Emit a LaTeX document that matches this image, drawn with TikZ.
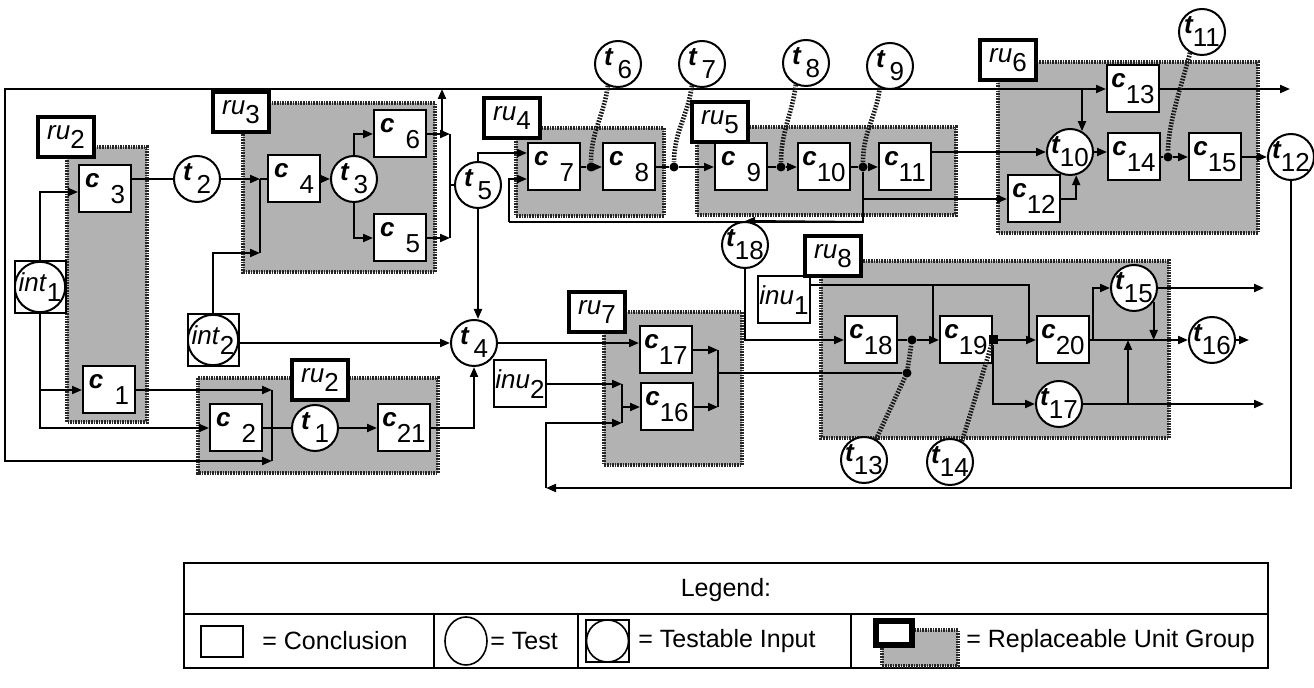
\documentclass[tikz,border=0pt]{standalone}
\usepackage{fontspec}
\setmainfont{Liberation Sans}
\usetikzlibrary{arrows.meta}
\newcommand\lblfont{\fontsize{13}{13}\selectfont}
\newcommand\legfont{\fontsize{12.5}{14}\selectfont}
\newcommand\clab[1]{\makebox[20pt]{\raisebox{3.5pt}{\bfseries\itshape c}\hfill\raisebox{-4.5pt}{#1}}}
\newcommand\tlab[1]{\makebox[14pt]{\raisebox{3pt}{\bfseries\itshape t}\hfill\raisebox{-3.5pt}{#1}}}
\newcommand\rlab[1]{\textit{ru}\raisebox{-4.5pt}{#1}}
\newcommand\ilab[2]{\textit{#1}\raisebox{-5pt}{#2}}
\tikzset{
  grp/.style={fill=black!30, draw=black!85, line width=1.7pt, dash pattern=on 0.8pt off 0.5pt},
  concl/.style={draw, line width=1pt, fill=white, minimum width=26pt, minimum height=23.5pt, inner sep=0pt, font=\lblfont},
  test/.style={draw, circle, line width=1pt, fill=white, minimum size=23pt, inner sep=0pt, font=\lblfont},
  tinput/.style={draw, line width=1pt, fill=white, minimum width=25.5pt, minimum height=26pt, inner sep=0pt, font=\lblfont,
    path picture={\draw[line width=1pt] (path picture bounding box.center) circle[radius=12.6pt];}},
  rulab/.style={draw, line width=1.9pt, fill=white, minimum width=28pt, minimum height=20pt, inner sep=0pt, font=\lblfont},
  conn/.style={line width=1pt},
  arr/.style={line width=1pt, -{Triangle[length=5pt,width=4pt]}},
  probe/.style={line width=2.3pt, black!90, dash pattern=on 0.8pt off 0.7pt},
  jdot/.style={circle, fill, inner sep=0pt, minimum size=4.5pt},
  legtxt/.style={anchor=west, inner sep=0pt, font=\legfont},
}
\begin{document}
\begin{tikzpicture}[x=0.5pt,y=-0.5pt]
\useasboundingbox (0,0) rectangle (1314,688);

% replaceable unit groups (shaded)
\draw[grp] (67,147) rectangle (147,422);
\draw[grp] (243,103) rectangle (435,272);
\draw[grp] (516,128) rectangle (664,216);
\draw[grp] (697,127) rectangle (956,215);
\draw[grp] (998,62) rectangle (1258,233);
\draw[grp] (604,312) rectangle (742,465);
\draw[grp] (821,261) rectangle (1169,438);
\draw[grp] (198,378) rectangle (438,473);

% conclusions
\node[concl] (c3) at (105,189) {\clab{3}};
\node[concl] (c1) at (109,390) {\clab{1}};
\node[concl] (c4) at (294,179) {\clab{4}};
\node[concl] (c6) at (400,134) {\clab{6}};
\node[concl] (c5) at (400,238) {\clab{5}};
\node[concl] (c2) at (236,428) {\clab{2}};
\node[concl] (c21) at (404,428) {\clab{21}};
\node[concl] (c7) at (554,167) {\clab{7}};
\node[concl] (c8) at (629,167) {\clab{8}};
\node[concl] (c9) at (741,167) {\clab{9}};
\node[concl] (c10) at (824,167) {\clab{10}};
\node[concl] (c11) at (905,167) {\clab{11}};
\node[concl] (c13) at (1133,89) {\clab{13}};
\node[concl] (c14) at (1134,157) {\clab{14}};
\node[concl] (c15) at (1215,157) {\clab{15}};
\node[concl] (c12) at (1034,199) {\clab{12}};
\node[concl] (c17) at (666,350) {\clab{17}};
\node[concl] (c16) at (667,407) {\clab{16}};
\node[concl] (c18) at (871,340) {\clab{18}};
\node[concl] (c19) at (966,340) {\clab{19}};
\node[concl] (c20) at (1063,340) {\clab{20}};
\node[concl] (inu1) at (784,300) {\ilab{inu}{1}};
\node[concl] (inu2) at (520,384) {\ilab{inu}{2}};

% testable inputs
\node[tinput] (int1) at (40,287) {\ilab{int}{1}};
\node[tinput] (int2) at (213,340) {\ilab{int}{2}};

% tests
\node[test] (t1) at (315,428) {\tlab{1}};
\node[test] (t2) at (197,179) {\tlab{2}};
\node[test] (t3) at (354,179) {\tlab{3}};
\node[test] (t4) at (474,343) {\tlab{4}};
\node[test] (t5) at (478,185) {\tlab{5}};
\node[test] (t6) at (618,64) {\tlab{6}};
\node[test] (t7) at (702,64) {\tlab{7}};
\node[test] (t8) at (806,63) {\tlab{8}};
\node[test] (t9) at (890,66) {\tlab{9}};
\node[test] (t10) at (1070,152) {\tlab{10}};
\node[test] (t11) at (1202,32) {\tlab{11}};
\node[test] (t12) at (1291,157) {\tlab{12}};
\node[test] (t13) at (864,460) {\tlab{13}};
\node[test] (t14) at (950,462) {\tlab{14}};
\node[test] (t15) at (1134,288) {\tlab{15}};
\node[test] (t16) at (1212,340) {\tlab{16}};
\node[test] (t17) at (1059,404) {\tlab{17}};
\node[test] (t18) at (745,245) {\tlab{18}};

% junction dots
\node[jdot] (d7) at (591,167) {};
\node[jdot] (d8) at (674,167) {};
\node[jdot] (d9) at (781,167) {};
\node[jdot] (j11) at (863,167) {};
\node[jdot] (d11) at (1168,157) {};
\node[jdot] (d18) at (912,340) {};
\node[jdot] (d13b) at (907,373) {};
\node[fill, inner sep=0pt, minimum size=4.5pt] (sq19) at (c19.east) {};

% helper coordinates
\coordinate (b4) at (260,179);
\coordinate (b4b) at (260,253);
\coordinate (b5t) at (450,134);
\coordinate (b5b) at (450,238);
\coordinate (up1) at (442,134);
\coordinate (top1) at (442,89);
\coordinate (fTL) at (5,89);
\coordinate (fBL) at (5,461);
\coordinate (bc2t) at (272,390);
\coordinate (bc2b) at (272,461);
\coordinate (b7t) at (622,384);
\coordinate (b7b) at (622,423);
\coordinate (b8t) at (718,350);
\coordinate (b8b) at (718,407);
\coordinate (b8m) at (718,373);
\coordinate (fbBL) at (546,488);
\coordinate (j11b) at (863,222);
\coordinate (c7r) at (509,222);
\coordinate (o13) at (1290,89);
\coordinate (o15) at (1264,288);
\coordinate (o16) at (1249,340);
\coordinate (o17) at (1264,404);
\coordinate (c20in) at (1029,340);
\coordinate (i1j) at (933,285);
\coordinate (c20u) at (1093,340);
\coordinate (j17) at (1128,404);

% connectors: left part
\draw[arr] (int1.north) |- ([yshift=-1.5pt]c3.west);
\draw[arr] (int1.south) |- (c2.west);
\draw[arr] (int1.south |- c1.west) -- (c1.west);
\draw[conn] (c3.east |- t2.west) -- (t2.west);
\draw[arr] (t2.east) -- (b4);
\draw[conn] (b4) -- (c4.west);
\draw[conn] (b4) -- (b4b);
\draw[arr] (int2.north) |- (b4b);
\draw[arr] (c4.east) -- (t3.west);
\draw[arr] (t3.north) |- (c6.west);
\draw[arr] (t3.south) |- (c5.west);
\draw[arr] (c6.east) -- (b5t);
\draw[arr] (c5.east) -- (b5b);
\draw[conn] (b5t) -- (b5b);
\draw[conn] (b5t |- t5.west) -- (t5.west);
\draw[arr] (up1) -- (top1);
\draw[arr] (top1) -- (fTL) -- (fBL) -- (bc2b);
\draw[arr] (top1) -- (c13.west);
\draw[arr] (c1.east) -- (bc2t);
\draw[conn] (bc2t) -- (bc2b);
\draw[conn] (c2.east) -- (t1.west);
\draw[arr] (t1.east) -- (c21.west);
\draw[arr] (c21.east) -| (t4.south);
\draw[arr] (int2.east |- t4.west) -- (t4.west);
\draw[arr] (t5.south) -- (t5.south |- t4.north);
\draw[arr] (t5.north) |- ([yshift=7pt]c7.west);
\draw[arr] (t4.east) -- (t4.east -| c17.west);

% chain ru4 / ru5
\draw[conn] (c7.east) -- (d7);
\draw[arr] (d7) -- (c8.west);
\draw[conn] (c8.east) -- (d8);
\draw[arr] (d8) -- (c9.west);
\draw[conn] (c9.east) -- (d9);
\draw[arr] (d9) -- (c10.west);
\draw[conn] (c10.east) -- (j11);
\draw[arr] (j11) -- (c11.west);
\draw[conn] (j11) -- (j11b) -- (c7r);
\draw[arr] (c7r) |- ([yshift=-6pt]c7.west);
\draw[arr] (j11b) -- (t18.north);
\draw[arr] (t18.south) |- (c18.west);
\draw[arr] (j11 |- c12.west) -- (c12.west);

% ru6
\draw[arr] (c11.east |- t10.west) -- (t10.west);
\draw[arr] (t10.60 |- c13.west) -- (t10.60);
\draw[arr] (c12.east) -| (t10.-75);
\draw[arr] (t10.east) -- (t10.east -| c14.west);
\draw[conn] (c14.east) -- (d11);
\draw[arr] (d11) -- (c15.west);
\draw[arr] (c15.east) -- (t12.west);
\draw[arr] (c13.east) -- (o13);
\draw[arr] (t12.south) |- (fbBL);
\draw[arr] (fbBL) |- (b7b);

% ru7
\draw[arr] (inu2.east) -- (b7t);
\draw[conn] (b7t) -- (b7b);
\draw[arr] (b7t |- c16.west) -- (c16.west);
\draw[arr] (c17.east) -- (b8t);
\draw[arr] (c16.east) -- (b8b);
\draw[conn] (b8t) -- (b8b);
\draw[conn] (b8m) -- (d13b);

% ru8
\draw[arr] ([yshift=7.5pt]inu1.east) -| (c20in) -- (c20.west);
\draw[conn] (i1j) -- (i1j |- c19.west);
\draw[conn] (c18.east) -- (d18);
\draw[arr] (d18) -- (c19.west);
\draw[conn] (sq19) -- (c20in);
\draw[arr] (sq19) |- (t17.west);
\draw[arr] (c20.east) -- (t16.west);
\draw[arr] (c20u) |- (t15.west);
\draw[arr] (t15.east) -- (o15);
\draw[arr] (t15.-35) -- (t15.-35 |- t16.west);
\draw[arr] (t17.east) -- (o17);
\draw[arr] (j17) -- (j17 |- t16.west);
\draw[arr] (t16.east) -- (o16);

% probes (dotted)
\draw[probe] (t6.-115) .. controls +(-4,30) and +(0,-35) .. (d7);
\draw[probe] (t7.-115) .. controls +(-4,30) and +(0,-35) .. (d8);
\draw[probe] (t8.-115) .. controls +(-4,30) and +(0,-35) .. (d9);
\draw[probe] (t9.-115) .. controls +(-4,30) and +(0,-35) .. (j11);
\draw[probe] (t11.-120) .. controls +(-6,25) and +(0,-35) .. (d11);
\draw[probe] (t13.60) -- (d13b) -- (d18);
\draw[probe] (t14.60) -- (sq19);

% replaceable unit labels
\node[rulab] (ru2a) at (66,137) {\rlab{2}};
\node[rulab] (ru3) at (241,112) {\rlab{3}};
\node[rulab] (ru4) at (512,118) {\rlab{4}};
\node[rulab] (ru5) at (720,122) {\rlab{5}};
\node[rulab] (ru6) at (1008,60) {\rlab{6}};
\node[rulab] (ru7) at (597,312) {\rlab{7}};
\node[rulab] (ru8) at (833,256) {\rlab{8}};
\node[rulab] (ru2b) at (320,380) {\rlab{2}};

% legend
\draw[line width=0.8pt] (184,563) rectangle (1268,668);
\draw[line width=0.8pt] (184,614) -- (1268,614);
\draw[line width=0.8pt] (434,614) -- (434,668);
\draw[line width=0.8pt] (578,614) -- (578,668);
\draw[line width=0.8pt] (851,614) -- (851,668);
\node[font=\legfont, inner sep=0pt] (legtitle) at (726,590) {Legend:};
\draw[line width=0.8pt] (201,626) rectangle (243,657);
\node[legtxt] (lconc) at (262,641) {= Conclusion};
\draw[line width=0.8pt] (466,641) ellipse[x radius=21, y radius=24];
\node[legtxt] (ltest) at (490,641) {= Test};
\draw[line width=0.8pt] (586,620) rectangle (629,662);
\draw[line width=0.8pt] (607.5,641) circle[radius=10.5pt];
\node[legtxt] (ltin) at (638,641) {= Testable Input};
\draw[grp] (882,630) rectangle (958,666);
\draw[line width=2.6pt, fill=white] (876,621) rectangle (912,645);
\node[legtxt] (lrug) at (966,641) {= Replaceable Unit Group};
\end{tikzpicture}
\end{document}
